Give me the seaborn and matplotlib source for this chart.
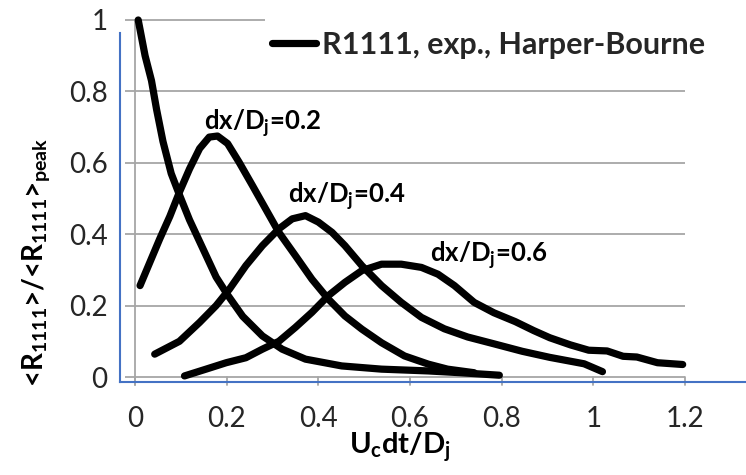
import numpy as np
import pandas as pd
import matplotlib
matplotlib.use("Agg")
import matplotlib.pyplot as plt
import seaborn as sns
from matplotlib.lines import Line2D

# ---- data ----
t_dx0 = [0.007, 0.022, 0.036, 0.047, 0.061, 0.079, 0.097, 0.119, 0.148, 0.177, 0.202, 0.235, 0.278,
         0.321, 0.372, 0.451, 0.538, 0.64, 0.71, 0.795]
r_dx0 = [1.0, 0.90, 0.83, 0.75, 0.66, 0.57, 0.51, 0.44, 0.36, 0.28, 0.23, 0.17, 0.115,
         0.078, 0.05, 0.031, 0.022, 0.017, 0.012, 0.005]

t_dx2 = [0.011, 0.032, 0.054, 0.076, 0.097, 0.119, 0.141, 0.162, 0.18, 0.202, 0.227, 0.256, 0.285,
         0.314, 0.35, 0.386, 0.422, 0.458, 0.495, 0.538, 0.588, 0.64, 0.682, 0.74]
r_dx2 = [0.256, 0.32, 0.387, 0.45, 0.518, 0.583, 0.64, 0.672, 0.675, 0.654, 0.602, 0.537, 0.471,
         0.405, 0.34, 0.274, 0.218, 0.171, 0.134, 0.096, 0.059, 0.036, 0.022, 0.012]

t_dx4 = [0.043, 0.097, 0.141, 0.177, 0.206, 0.242, 0.278, 0.314, 0.343, 0.372, 0.40, 0.43, 0.458,
         0.495, 0.538, 0.581, 0.625, 0.675, 0.726, 0.783, 0.845, 0.905, 0.98, 1.02]
r_dx4 = [0.064, 0.10, 0.153, 0.20, 0.246, 0.312, 0.368, 0.415, 0.443, 0.452, 0.434, 0.405, 0.368,
         0.312, 0.256, 0.209, 0.167, 0.135, 0.112, 0.093, 0.072, 0.055, 0.037, 0.015]

t_dx6 = [0.108, 0.155, 0.199, 0.242, 0.278, 0.314, 0.35, 0.386, 0.422, 0.458, 0.495, 0.538, 0.581,
         0.625, 0.661, 0.697, 0.74, 0.783, 0.83, 0.87, 0.905, 0.95, 0.99, 1.03, 1.065, 1.095,
         1.14, 1.195]
r_dx6 = [0.003, 0.022, 0.04, 0.054, 0.078, 0.10, 0.139, 0.181, 0.228, 0.265, 0.298, 0.316, 0.316,
         0.307, 0.288, 0.256, 0.209, 0.18, 0.155, 0.13, 0.11, 0.09, 0.075, 0.073, 0.058, 0.056,
         0.04, 0.035]

separations = ["0", "0.2", "0.4", "0.6"]
annot_labels = ["dx/D$_j$=0.2", "dx/D$_j$=0.4", "dx/D$_j$=0.6"]
legend_label = "R1111, exp., Harper-Bourne"
x_ticks = [0, 0.2, 0.4, 0.6, 0.8, 1, 1.2]
x_ticklabels = ["0", "0.2", "0.4", "0.6", "0.8", "1", "1.2"]
y_ticks = [0, 0.2, 0.4, 0.6, 0.8, 1]
y_ticklabels = ["0", "0.2", "0.4", "0.6", "0.8", "1"]

frames = []
for sep, t, r in zip(separations, [t_dx0, t_dx2, t_dx4, t_dx6], [r_dx0, r_dx2, r_dx4, r_dx6]):
    frames.append(pd.DataFrame({"t": t, "r": r, "sep": sep}))
df = pd.concat(frames, ignore_index=True)

# ---- style ----
sns.set_style("white")
plt.rcParams["font.family"] = ["Lato", "DejaVu Sans"]
plt.rcParams["mathtext.fontset"] = "custom"
plt.rcParams["mathtext.rm"] = "Lato:bold"
plt.rcParams["mathtext.it"] = "Lato:bold"
plt.rcParams["mathtext.bf"] = "Lato:bold"

W, H = 746, 475
fig = plt.figure(figsize=(W / 100, H / 100), dpi=100)
ax = fig.add_axes([120 / W, 1 - 382 / H, 626 / W, 367 / H])

xmin, xmax = -15 / 458.3, 611 / 458.3
ymin, ymax = -5 / 357, 362 / 357
ax.set_xlim(xmin, xmax)
ax.set_ylim(ymin, ymax)

grid_c = "#A6A6A6"
tick_len_y = 8 / 357
tick_len_x = 10 / 458.3
# gridlines (also serve as y tick marks)
for yv in y_ticks:
    xr = 0.284 if yv == 1 else 1.2
    ax.plot([-tick_len_x, xr], [yv, yv], color=grid_c, lw=1.3, zorder=1, solid_capstyle="butt")
# y axis line and x tick marks
ax.plot([0, 0], [-tick_len_y, 1.0], color=grid_c, lw=1.3, zorder=1)
for xv in x_ticks:
    ax.plot([xv, xv], [-tick_len_y, 0], color=grid_c, lw=1.3, zorder=1)

sns.lineplot(data=df, x="t", y="r", units="sep", estimator=None, sort=False,
             color="black", lw=5.2, ax=ax, legend=False, zorder=3,
             solid_capstyle="round", solid_joinstyle="round")
for ln in ax.get_lines():
    ln.set_clip_on(False)

# annotations
ann_pos = [(0.150, 0.692), (0.334, 0.487), (0.644, 0.322)]
for lab, (xa, ya) in zip(annot_labels, ann_pos):
    ax.text(xa, ya, lab, fontsize=18.5, fontweight="bold", ha="left", va="baseline", color="black")

# spines
for s in ["top", "right"]:
    ax.spines[s].set_visible(False)
blue = "#4472C4"
ax.spines["left"].set_color(blue)
ax.spines["bottom"].set_color(blue)
ax.spines["left"].set_linewidth(1.5)
ax.spines["bottom"].set_linewidth(1.5)
ax.spines["left"].set_bounds(ymin, 0.964)

ax.set_xticks(x_ticks)
ax.set_xticklabels(x_ticklabels)
ax.set_yticks(y_ticks)
ax.set_yticklabels(y_ticklabels)
ax.tick_params(axis="both", length=0, labelsize=20, colors="#262626")
ax.tick_params(axis="y", pad=9)
ax.tick_params(axis="x", pad=17)
ax.grid(False)

ax.set_xlabel("U$_c$dt/D$_j$", fontsize=21, fontweight="bold", color="black")
ax.xaxis.set_label_coords((400 - 120) / 626, (382 - 430) / 367)
ax.set_ylabel("<R$_{1111}$>/<R$_{1111}$>$_{peak}$", fontsize=20, fontweight="bold", color="black")
ax.yaxis.set_label_coords((52 - 120) / 626, (382 - 262) / 367)

handle = Line2D([], [], color="black", lw=5.2, solid_capstyle="round")
leg = fig.legend([handle], [legend_label], loc="center left",
                 bbox_to_anchor=(272 / W, 1 - 45 / H), frameon=False,
                 prop={"family": "Lato", "weight": "bold", "size": 22},
                 handlelength=1.45, handletextpad=0.2, borderpad=0, borderaxespad=0)

fig.savefig("out.png", dpi=100)
